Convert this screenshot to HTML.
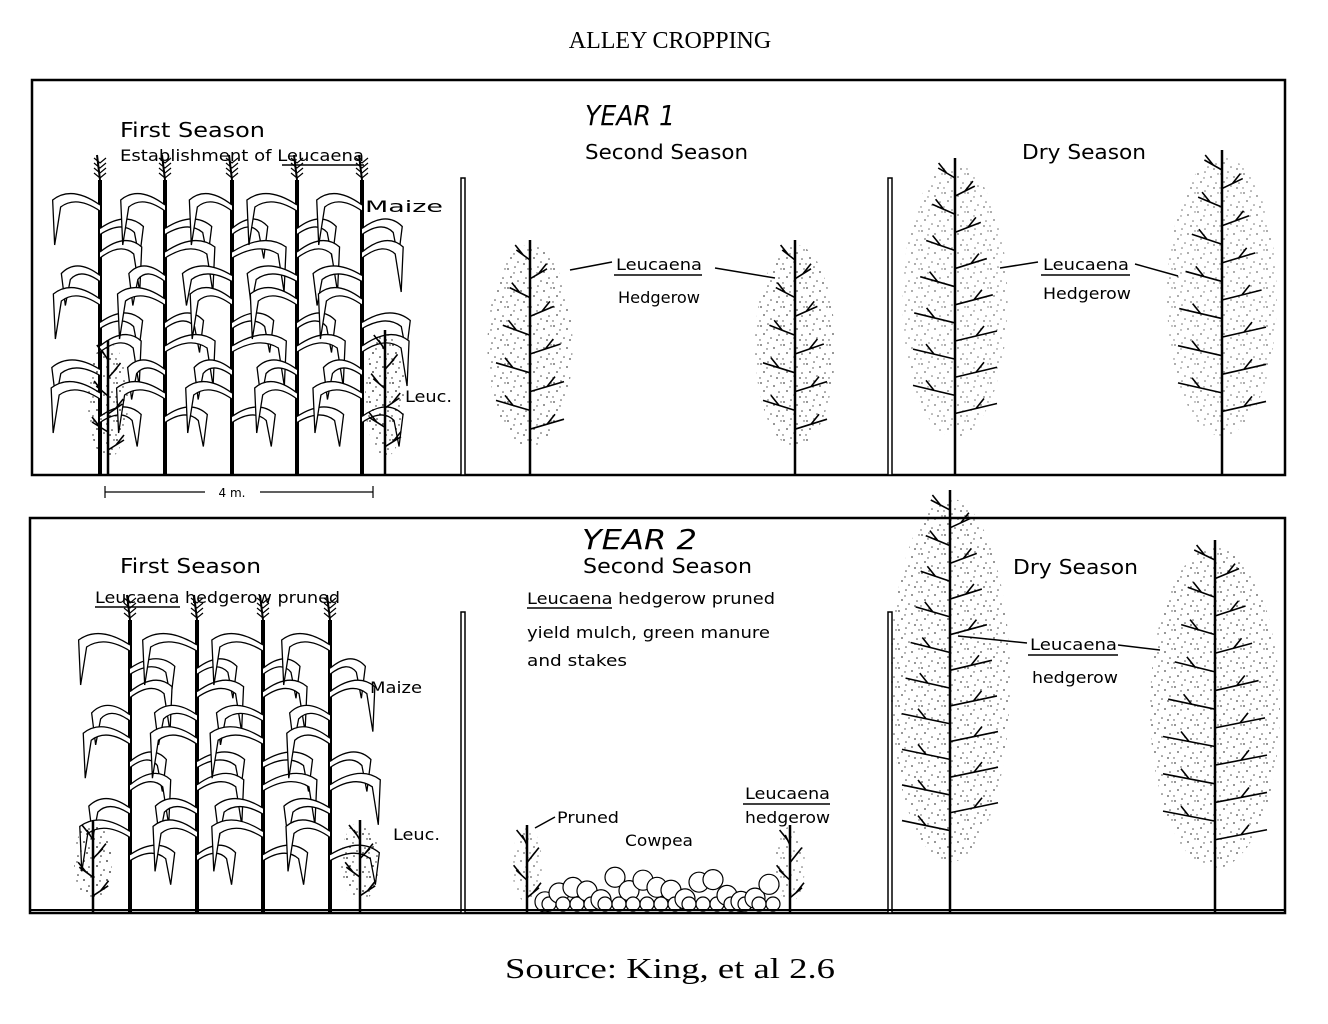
<!DOCTYPE html>
<html><head><meta charset="utf-8">
<style>
html,body{margin:0;padding:0;background:#fff;}
svg{display:block;}
text{font-family:"DejaVu Sans","Liberation Sans",sans-serif;fill:#000;}
.serif{font-family:"Liberation Serif",serif;}
</style></head>
<body>
<svg id="s" width="1328" height="1024" viewBox="0 0 1328 1024" xmlns="http://www.w3.org/2000/svg">
<defs>
<pattern id="dots" width="23" height="19" patternUnits="userSpaceOnUse">
<circle cx="2" cy="3" r="0.9" fill="#000"/><circle cx="9" cy="1" r="0.8" fill="#000"/>
<circle cx="15" cy="6" r="0.9" fill="#000"/><circle cx="20" cy="12" r="0.8" fill="#000"/>
<circle cx="5" cy="11" r="0.9" fill="#000"/><circle cx="12" cy="15" r="0.8" fill="#000"/>
<circle cx="18" cy="17" r="0.9" fill="#000"/><circle cx="1" cy="17" r="0.7" fill="#000"/>
<circle cx="8" cy="7" r="0.7" fill="#000"/><circle cx="22" cy="3" r="0.7" fill="#000"/>
</pattern>
</defs>
<text class="serif" x="670" y="48" font-size="24" text-anchor="middle">ALLEY CROPPING</text>
<rect x="32" y="80" width="1253" height="395" fill="none" stroke="#000" stroke-width="2.5"/>
<rect x="30" y="518" width="1255" height="395" fill="none" stroke="#000" stroke-width="2.5"/>
<g fill="#fff" stroke="#000" stroke-width="1.5">
<rect x="461" y="178" width="4" height="297"/><rect x="888" y="178" width="4" height="297"/>
<rect x="461" y="612" width="4" height="301"/><rect x="888" y="612" width="4" height="301"/>
</g>
<g id="art"></g>
<text x="585" y="125" font-size="28" font-style="italic" textLength="90" lengthAdjust="spacingAndGlyphs">YEAR 1</text>
<text x="120" y="137" font-size="20" textLength="145" lengthAdjust="spacingAndGlyphs">First Season</text>
<text x="120" y="161" font-size="16" textLength="244" lengthAdjust="spacingAndGlyphs">Establishment of Leucaena</text>
<line x1="282" y1="165" x2="364" y2="165" stroke="#000" stroke-width="1.5"/>
<text x="585" y="159" font-size="20" textLength="163" lengthAdjust="spacingAndGlyphs">Second Season</text>
<text x="1022" y="159" font-size="20" textLength="124" lengthAdjust="spacingAndGlyphs">Dry Season</text>
<text x="365" y="212" font-size="16" textLength="78" lengthAdjust="spacingAndGlyphs">Maize</text>
<text x="405" y="402" font-size="16" textLength="47" lengthAdjust="spacingAndGlyphs">Leuc.</text>
<text x="616" y="270" font-size="16" textLength="86" lengthAdjust="spacingAndGlyphs">Leucaena</text>
<line x1="614" y1="275" x2="702" y2="275" stroke="#000" stroke-width="1.5"/>
<text x="618" y="303" font-size="16" textLength="82" lengthAdjust="spacingAndGlyphs">Hedgerow</text>
<text x="1043" y="270" font-size="16" textLength="86" lengthAdjust="spacingAndGlyphs">Leucaena</text>
<line x1="1041" y1="275" x2="1130" y2="275" stroke="#000" stroke-width="1.5"/>
<text x="1043" y="299" font-size="16" textLength="88" lengthAdjust="spacingAndGlyphs">Hedgerow</text>
<line x1="105" y1="492" x2="373" y2="492" stroke="#000" stroke-width="1.2"/>
<line x1="105" y1="486" x2="105" y2="498" stroke="#000" stroke-width="1.2"/>
<line x1="373" y1="486" x2="373" y2="498" stroke="#000" stroke-width="1.2"/>
<rect x="205" y="484" width="55" height="16" fill="#fff"/>
<text x="232" y="497" font-size="12" text-anchor="middle">4 m.</text>

<text x="582" y="549" font-size="28" font-style="italic" textLength="115" lengthAdjust="spacingAndGlyphs">YEAR 2</text>
<text x="120" y="573" font-size="20" textLength="141" lengthAdjust="spacingAndGlyphs">First Season</text>
<text x="95" y="603" font-size="16" textLength="245" lengthAdjust="spacingAndGlyphs">Leucaena hedgerow pruned</text>
<line x1="95" y1="607" x2="180" y2="607" stroke="#000" stroke-width="1.5"/>
<text x="583" y="573" font-size="20" textLength="169" lengthAdjust="spacingAndGlyphs">Second Season</text>
<text x="527" y="604" font-size="16" textLength="248" lengthAdjust="spacingAndGlyphs">Leucaena hedgerow pruned</text>
<line x1="527" y1="608" x2="612" y2="608" stroke="#000" stroke-width="1.5"/>
<text x="527" y="638" font-size="16" textLength="243" lengthAdjust="spacingAndGlyphs">yield mulch, green manure</text>
<text x="527" y="666" font-size="16" textLength="100" lengthAdjust="spacingAndGlyphs">and stakes</text>
<text x="1013" y="574" font-size="20" textLength="125" lengthAdjust="spacingAndGlyphs">Dry Season</text>
<text x="1030" y="650" font-size="16" textLength="87" lengthAdjust="spacingAndGlyphs">Leucaena</text>
<line x1="1028" y1="655" x2="1118" y2="655" stroke="#000" stroke-width="1.5"/>
<text x="1032" y="683" font-size="16" textLength="86" lengthAdjust="spacingAndGlyphs">hedgerow</text>
<text x="370" y="693" font-size="16" textLength="52" lengthAdjust="spacingAndGlyphs">Maize</text>
<text x="393" y="840" font-size="16" textLength="47" lengthAdjust="spacingAndGlyphs">Leuc.</text>
<text x="557" y="823" font-size="16" textLength="62" lengthAdjust="spacingAndGlyphs">Pruned</text>
<text x="625" y="846" font-size="16" textLength="68" lengthAdjust="spacingAndGlyphs">Cowpea</text>
<text x="745" y="799" font-size="16" textLength="85" lengthAdjust="spacingAndGlyphs">Leucaena</text>
<line x1="743" y1="804" x2="830" y2="804" stroke="#000" stroke-width="1.5"/>
<text x="745" y="823" font-size="16" textLength="85" lengthAdjust="spacingAndGlyphs">hedgerow</text>
<text class="serif" x="505" y="978" font-size="28" textLength="330" lengthAdjust="spacingAndGlyphs">Source:  King, et al 2.6</text>
</svg>
<script>
(function(){
var g=document.getElementById('art'),h='';
var seed=7;function r(){seed=(seed*9301+49297)%233280;return seed/233280;}
function maize(x,y0,y1){
 h+='<line x1="'+x+'" y1="'+y0+'" x2="'+x+'" y2="'+y1+'" stroke="#000" stroke-width="4"/>';
 h+='<line x1="'+(x-3)+'" y1="'+(y0-25)+'" x2="'+x+'" y2="'+y0+'" stroke="#000" stroke-width="2"/>';
 for(var k=0;k<4;k++){var yy=y0-22+k*5;h+='<path d="M'+(x-6)+' '+yy+' L'+x+' '+(yy+5)+' L'+(x+6)+' '+yy+'" fill="none" stroke="#000" stroke-width="1.2"/>';}
 var n=5,step=(y1-y0-60)/n;
 for(var i=0;i<n;i++){var y=y0+25+i*step,s=(i%2?1:-1),L=40+r()*15;
  h+='<path d="M'+x+' '+y+' Q'+(x+s*L*0.6)+' '+(y-20)+' '+(x+s*L)+' '+(y-5)+' L'+(x+s*(L-2))+' '+(y+40)+' L'+(x+s*(L-8))+' '+(y+2)+' Q'+(x+s*L*0.5)+' '+(y-10)+' '+x+' '+(y+6)+'" fill="#fff" stroke="#000" stroke-width="1.3"/>';
  s=-s;L=35+r()*15;y+=step*0.5;
  h+='<path d="M'+x+' '+y+' Q'+(x+s*L*0.6)+' '+(y-18)+' '+(x+s*L)+' '+(y-2)+' L'+(x+s*(L-4))+' '+(y+30)+' L'+(x+s*(L-9))+' '+(y+4)+' Q'+(x+s*L*0.5)+' '+(y-8)+' '+x+' '+(y+6)+'" fill="#fff" stroke="#000" stroke-width="1.3"/>';}
}
function tree(x,y0,y1,w,dense){
 h+='<ellipse cx="'+x+'" cy="'+((y0+y1)/2-(y1-y0)*0.05)+'" rx="'+(w/2)+'" ry="'+((y1-y0)*0.43)+'" fill="url(#dots)" opacity="'+dense+'"/>';
 h+='<line x1="'+x+'" y1="'+y0+'" x2="'+x+'" y2="'+y1+'" stroke="#000" stroke-width="2.5"/>';
 var n=Math.floor((y1-y0)/22);
 for(var i=0;i<n;i++){var y=y0+10+i*(y1-y0)*0.8/n,s=i%2?1:-1,L=w*0.4*Math.min(1,0.4+i/n);
  h+='<path d="M'+x+' '+(y+10)+' L'+(x+s*L)+' '+y+' M'+(x+s*L*0.5)+' '+(y+5)+' l'+(s*8)+' -10" fill="none" stroke="#000" stroke-width="1.6"/>';}
}
function cowpea(x0,x1,y){
 for(var x=x0;x<x1;x+=14){var cy=y-10-r()*25;h+='<circle cx="'+x+'" cy="'+cy+'" r="10" fill="#fff" stroke="#000" stroke-width="1.2"/><circle cx="'+(x+4)+'" cy="'+(y-8)+'" r="7" fill="#fff" stroke="#000" stroke-width="1.2"/>';}
}
[100,165,232,297,362].forEach(function(x){maize(x,180,475);});
tree(108,340,475,40,0.9);tree(385,330,475,40,0.9);
tree(530,240,475,85,0.7);tree(795,240,475,80,0.7);
tree(955,158,475,105,0.55);tree(1222,150,475,110,0.55);
[130,197,263,330].forEach(function(x){maize(x,620,913);});
tree(93,820,913,38,0.9);tree(360,820,913,38,0.9);tree(527,825,913,30,0.6);tree(790,825,913,30,0.6);
cowpea(545,775,912);
tree(950,490,913,120,0.7);tree(1215,540,913,130,0.7);
h+='<line x1="30" y1="910" x2="1285" y2="910" stroke="#000" stroke-width="2"/>';
h+='<path d="M570 270 L612 262 M1000 268 L1038 262 M715 268 L775 278 M1135 264 L1178 276 M1027 643 L958 636 M1118 645 L1160 650 M555 817 L535 828" stroke="#000" stroke-width="1.5" fill="none"/>';
g.innerHTML=h;
})();
</script>
</body></html>
